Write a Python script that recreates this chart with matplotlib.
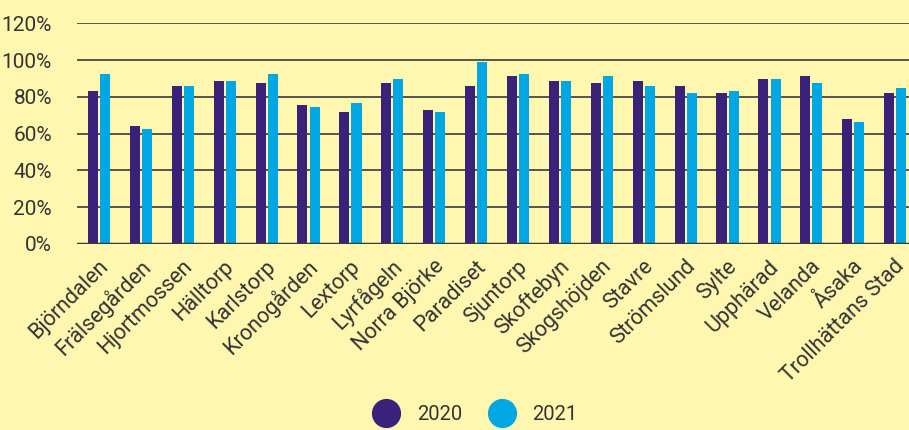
import matplotlib.pyplot as plt
import numpy as np

plt.rcParams['font.family'] = ['Roboto', 'DejaVu Sans']

omraden = ['Björndalen', 'Frälsegården', 'Hjortmossen', 'Hälltorp', 'Karlstorp',
           'Kronogården', 'Lextorp', 'Lyrfågeln', 'Norra Björke', 'Paradiset',
           'Sjuntorp', 'Skoftebyn', 'Skogshöjden', 'Stavre', 'Strömslund',
           'Sylte', 'Upphärad', 'Velanda', 'Åsaka', 'Trollhättans Stad']
varden_2020 = [83.4, 63.9, 86.1, 88.8, 87.7, 75.8, 72.0, 87.7, 73.1, 86.1,
               91.5, 88.8, 87.7, 88.8, 86.1, 82.3, 89.9, 91.5, 68.2, 82.3]
varden_2021 = [92.6, 62.8, 86.1, 88.8, 92.6, 74.7, 76.9, 89.9, 72.0, 99.1,
               92.6, 88.8, 91.5, 86.1, 82.3, 83.4, 89.9, 87.7, 66.6, 85.0]

bg = '#fff7b0'
lila = '#3a227a'
bla = '#00a7e2'
text = '#333333'

fig = plt.figure(figsize=(9.09, 4.30), dpi=100, facecolor=bg)
ax = fig.add_axes([77 / 909, 1 - 244 / 430, 832 / 909, (244 - 23.3) / 430])
ax.set_facecolor(bg)

x = np.arange(len(omraden))
bredd = 0.24
ax.bar(x - 0.145, varden_2020, bredd, color=lila, zorder=3, label='2020')
ax.bar(x + 0.145, varden_2021, bredd, color=bla, zorder=3, label='2021')

ax.set_xlim(-0.525, 19.33)
ax.set_ylim(0, 120)
ax.set_yticks(range(0, 121, 20))
ax.set_yticklabels([f'{v}%' for v in range(0, 121, 20)], fontsize=15, color=text)
ax.yaxis.grid(True, color='#3a3a3a', linewidth=1.2, zorder=0)
ax.axhline(0, color='#3a3a3a', linewidth=2.5, zorder=4)
ax.tick_params(axis='y', length=0, pad=18)
ax.tick_params(axis='x', length=0, pad=14)
for s in ax.spines.values():
    s.set_visible(False)

ax.set_xticks(x + 0.15)
ax.set_xticklabels(omraden, rotation=45, ha='right', va='center',
                   rotation_mode='anchor', fontsize=15.5, color=text)

fig.legend(handles=[
    plt.Line2D([], [], marker='o', linestyle='', markersize=20, color=lila, label='2020'),
    plt.Line2D([], [], marker='o', linestyle='', markersize=20, color=bla, label='2021')],
    loc='center', bbox_to_anchor=(472 / 909, 1 - 415 / 430), ncol=2, frameon=False,
    fontsize=14.5, handletextpad=0.5, columnspacing=1.0, labelcolor=text)

fig.savefig('out.png', dpi=100, facecolor=bg)
